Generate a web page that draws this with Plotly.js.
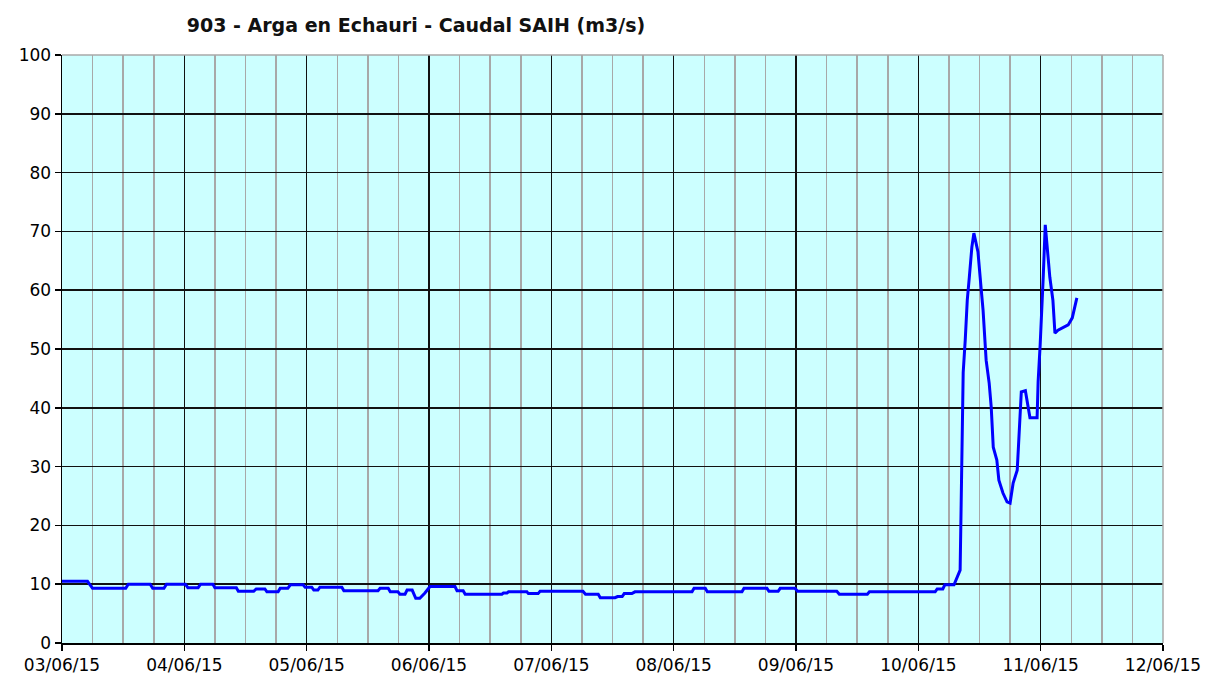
<!DOCTYPE html>
<html>
<head>
<meta charset="utf-8">
<script src="https://cdn.plot.ly/plotly-3.0.1.min.js"></script>
<style>
  html, body { margin: 0; padding: 0; background: #fff; }
  #grafica { width: 1211px; height: 679px; }
</style>
</head>
<body>
<div id="grafica"></div>
<script>
// Horas desde el 03/06/15 00:00 y caudal leido (m3/s)
const horas = [
    0, 5, 6, 12.5, 13, 17.3, 17.8, 20, 20.5, 24.2, 24.7, 26.7, 27.2, 29.6, 30, 34.2, 34.6,
    37.6, 38.1, 39.8, 40.2, 42.4, 42.8, 44.3, 44.8, 47.3, 47.7, 49, 49.4, 50.2, 50.6, 54.9,
    55.3, 62, 62.4, 64, 64.4, 65.9, 66.3, 67.3, 67.7, 68.7, 69.4, 70.2, 71.2, 72.2, 77.1,
    77.5, 78.7, 79.1, 86.3, 86.6, 87.3, 87.6, 91.2, 91.5, 93.4, 93.8, 102.2, 102.7, 105.2,
    105.6, 108.5, 109, 109.9, 110.3, 111.8, 112.4, 123.6, 124, 126.2, 126.6, 133.4, 133.8,
    138.3, 138.7, 140.5, 140.9, 143.8, 144.3, 152, 152.5, 158, 158.4, 171.3, 171.7, 172.8,
    173.2, 175, 175.6, 176.2, 176.4, 176.6, 176.8, 177.2, 177.6, 178, 178.5, 178.9, 179.3,
    179.7, 180.3, 180.7, 181.3, 181.9, 182.3, 182.7, 183.4, 183.8, 184.6, 185.4, 186, 186.6,
    187.4, 187.6, 188, 188.2, 189, 189.3, 189.9, 191.3, 191.5, 191.9, 192.3, 192.5, 192.9,
    193.3, 193.8, 194.4, 194.8, 195.4, 196.4, 197.4, 198.2, 198.7, 199.1
];
const caudal = [
    10.5, 10.5, 9.3, 9.3, 10.0, 10.0, 9.3, 9.3, 10.0, 10.0, 9.4, 9.4, 10.0, 10.0, 9.4, 9.4, 8.8,
    8.8, 9.2, 9.2, 8.7, 8.7, 9.3, 9.3, 9.9, 9.9, 9.5, 9.5, 9.0, 9.0, 9.5, 9.5,
    8.9, 8.9, 9.3, 9.3, 8.7, 8.7, 8.3, 8.3, 9.0, 9.0, 7.6, 7.6, 8.5, 9.6, 9.6,
    8.9, 8.9, 8.3, 8.3, 8.5, 8.5, 8.7, 8.7, 8.4, 8.4, 8.8, 8.8, 8.3, 8.3,
    7.7, 7.7, 7.9, 7.9, 8.4, 8.4, 8.7, 8.7, 9.3, 9.3, 8.7, 8.7, 9.3,
    9.3, 8.8, 8.8, 9.3, 9.3, 8.8, 8.8, 8.3, 8.3, 8.7, 8.7, 9.2, 9.2,
    9.9, 9.9, 11.2, 12.4, 23.5, 34.9, 46, 51.5, 58.3, 62.2, 67.3, 69.7, 68,
    66.5, 60.5, 56.6, 48.1, 44.2, 40.1, 33.3, 31.1, 27.7, 25.5, 24, 23.8, 27.2,
    29.4, 33.3, 38.4, 42.7, 42.9, 41.3, 38.3, 38.3, 44.4, 50.7, 57.8, 62.2, 71.1,
    66.8, 62.2, 58.3, 52.7, 53.2, 53.7, 54.1, 55.3, 57, 58.7
];

const inicio = Date.UTC(2015, 5, 3);
function fecha(h) {
    return new Date(inicio + h * 3600000).toISOString().slice(0, 19).replace('T', ' ');
}

const fuente = 'DejaVu Sans, Verdana, sans-serif';

const traza = {
    type: 'scatter',
    mode: 'lines',
    x: horas.map(fecha),
    y: caudal,
    line: { color: '#0000ff', width: 3 },
    hoverinfo: 'x+y'
};

const layout = {
    width: 1211,
    height: 679,
    margin: { l: 62, r: 48, t: 55, b: 36 },
    paper_bgcolor: '#ffffff',
    plot_bgcolor: '#ccffff',
    showlegend: false,
    font: { family: fuente, size: 17, color: '#000' },
    title: {
        text: '<b>903 - Arga en Echauri - Caudal SAIH (m3/s)</b>',
        font: { family: fuente, size: 19, color: '#111' },
        xref: 'container', x: 416 / 1211, xanchor: 'center',
        yref: 'container', y: 1 - 25 / 679, yanchor: 'middle'
    },
    xaxis: {
        type: 'date',
        range: ['2015-06-03', '2015-06-12'],
        tick0: '2015-06-03',
        dtick: 86400000,
        tickformat: '%d/%m/%y',
        ticks: 'outside',
        ticklen: 6,
        tickwidth: 1.5,
        tickcolor: '#000',
        showline: true,
        linecolor: '#000',
        linewidth: 1.5,
        showgrid: true,
        gridcolor: '#111',
        gridwidth: 1.5,
        minor: {
            dtick: 6 * 3600000,
            showgrid: true,
            gridcolor: '#a8a8a8',
            gridwidth: 1.5,
            ticks: ''
        },
        zeroline: false,
        fixedrange: true
    },
    yaxis: {
        range: [0, 100],
        dtick: 10,
        ticks: 'outside',
        ticklen: 6,
        tickwidth: 1.5,
        tickcolor: '#000',
        showline: true,
        linecolor: '#000',
        linewidth: 1.5,
        showgrid: true,
        gridcolor: '#111',
        gridwidth: 1.5,
        zeroline: false,
        fixedrange: true
    },
    shapes: [
        { type: 'line', xref: 'paper', yref: 'paper', x0: 0, x1: 1, y0: 1, y1: 1,
          line: { color: '#a8a8a8', width: 1.5 }, layer: 'above' },
        { type: 'line', xref: 'paper', yref: 'paper', x0: 1, x1: 1, y0: 0, y1: 1,
          line: { color: '#a8a8a8', width: 1.5 }, layer: 'above' }
    ]
};

Plotly.newPlot('grafica', [traza], layout, { displayModeBar: false, staticPlot: true });
</script>
</body>
</html>
